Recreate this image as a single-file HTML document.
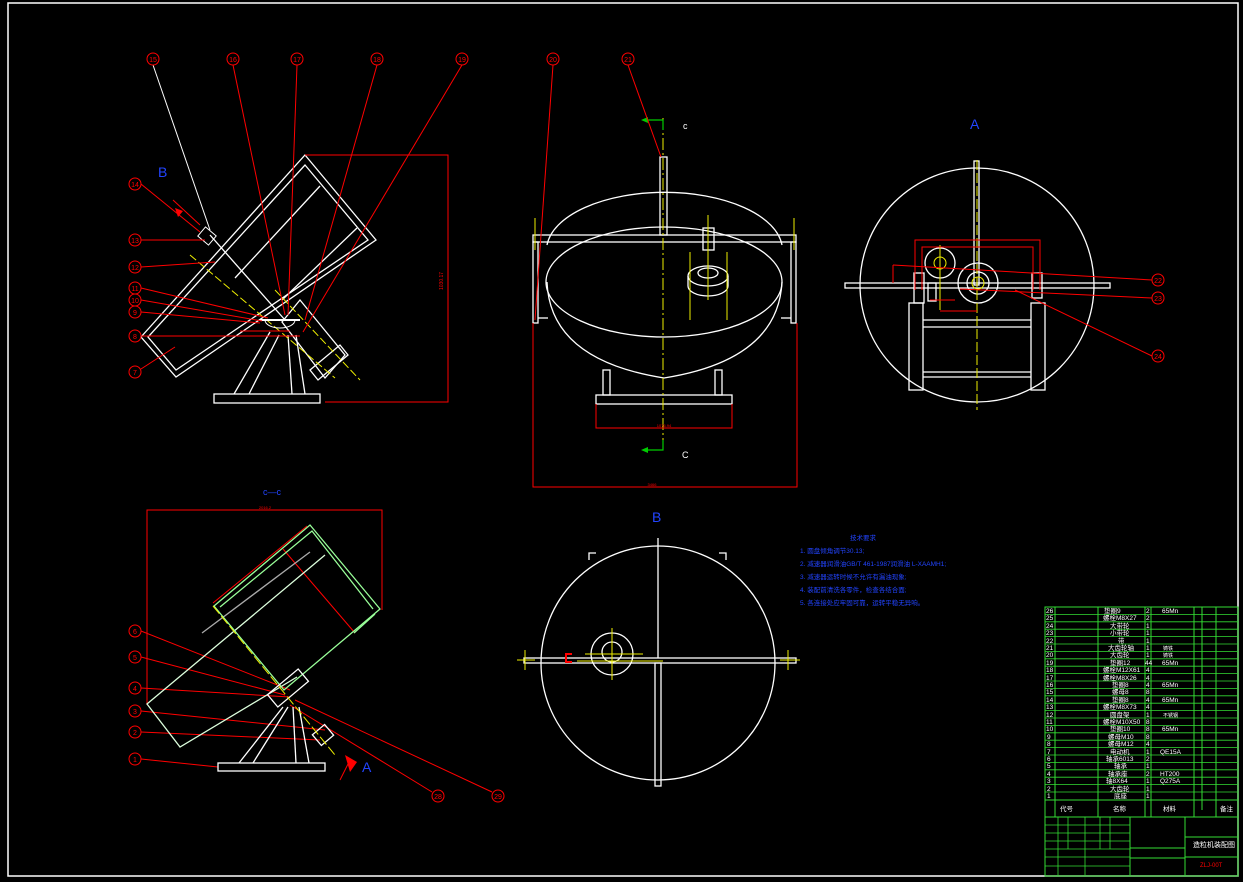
<!DOCTYPE html>
<html><head><meta charset="utf-8"><style>
html,body{margin:0;padding:0;background:#000;}
svg{display:block;font-family:"Liberation Sans","Noto Sans CJK SC",sans-serif;}
</style></head><body>
<svg width="1243" height="882" viewBox="0 0 1243 882" xmlns="http://www.w3.org/2000/svg">
<rect width="1243" height="882" fill="#000"/>
<rect x="8" y="3" width="1230" height="873" fill="none" stroke="#fff" stroke-width="1.5"/>

<!-- ============ TOP-LEFT VIEW ============ -->
<g fill="none" stroke="#fff" stroke-width="1.3">
<polygon points="305,155 376,240 176,377 141,337"/>
<polygon points="305,165 368,240 176,370 148,337"/>
<line x1="320" y1="186" x2="235" y2="278"/>
<line x1="357" y1="228" x2="282" y2="300"/>
<line x1="210" y1="235" x2="285" y2="320"/>
<polygon points="300,300 345,355 325,378 282,322"/>
<rect x="214" y="394" width="106" height="9"/>
<line x1="234" y1="394" x2="270" y2="332"/><line x1="249" y1="394" x2="279" y2="335"/>
<line x1="292" y1="394" x2="288" y2="335"/><line x1="305" y1="394" x2="296" y2="335"/>
<polygon points="310,370 340,345 348,355 318,380"/>
</g>
<g stroke="#ee0" stroke-width="1" fill="none" stroke-dasharray="8,3">
<line x1="190" y1="255" x2="335" y2="378"/><line x1="275" y1="290" x2="360" y2="380"/>
</g>
<path d="M265 320 a15 8 0 0 0 30 0" fill="none" stroke="#fff"/>
<line x1="260" y1="320" x2="300" y2="320" stroke="#fff" stroke-width="2"/>
<rect x="200" y="230" width="14" height="12" fill="none" stroke="#fff" transform="rotate(40 207 236)"/>
<g fill="none" stroke="#f00" stroke-width="1">
<polyline points="305,155 448,155 448,402 325,402"/>
<line x1="173" y1="200" x2="200" y2="225"/>
<line x1="153" y1="65" x2="210" y2="230" stroke="#fff"/>
<line x1="233" y1="65" x2="285" y2="315"/>
<line x1="297" y1="65" x2="288" y2="315"/>
<line x1="377" y1="65" x2="305" y2="320"/>
<line x1="462" y1="65" x2="303" y2="332"/>
<line x1="141" y1="184" x2="200" y2="232"/>
<line x1="141" y1="240" x2="205" y2="240"/>
<line x1="141" y1="267" x2="215" y2="262"/>
<line x1="141" y1="288" x2="268" y2="318"/>
<line x1="141" y1="300" x2="262" y2="321"/>
<line x1="141" y1="312" x2="260" y2="323"/>
<line x1="141" y1="336" x2="300" y2="336"/>
<line x1="141" y1="369" x2="175" y2="347"/>
<line x1="240" y1="331" x2="290" y2="331"/>
</g>
<polygon points="175,208 183,211 178,217" fill="#f00"/>
<text x="158" y="177" fill="#24f" font-size="14">B</text>
<text x="443" y="290" fill="#f00" font-size="5" transform="rotate(-90 443 290)">1030.17</text>

<!-- balloons -->
<g fill="none" stroke="#f00" stroke-width="1">
<circle cx="153" cy="59" r="6"/><circle cx="233" cy="59" r="6"/><circle cx="297" cy="59" r="6"/><circle cx="377" cy="59" r="6"/><circle cx="462" cy="59" r="6"/>
<circle cx="135" cy="184" r="6"/><circle cx="135" cy="240" r="6"/><circle cx="135" cy="267" r="6"/><circle cx="135" cy="288" r="6"/><circle cx="135" cy="300" r="6"/><circle cx="135" cy="312" r="6"/><circle cx="135" cy="336" r="6"/><circle cx="135" cy="372" r="6"/>
<circle cx="553" cy="59" r="6"/><circle cx="628" cy="59" r="6"/>
<circle cx="1158" cy="280" r="6"/><circle cx="1158" cy="298" r="6"/><circle cx="1158" cy="356" r="6"/>
<circle cx="135" cy="631" r="6"/><circle cx="135" cy="657" r="6"/><circle cx="135" cy="688" r="6"/><circle cx="135" cy="711" r="6"/><circle cx="135" cy="732" r="6"/><circle cx="135" cy="759" r="6"/>
<circle cx="438" cy="796" r="6"/><circle cx="498" cy="796" r="6"/>
</g>
<g fill="#f00" font-size="7" text-anchor="middle">
<text x="153" y="62">15</text><text x="233" y="62">16</text><text x="297" y="62">17</text><text x="377" y="62">18</text><text x="462" y="62">19</text>
<text x="135" y="187">14</text><text x="135" y="243">13</text><text x="135" y="270">12</text><text x="135" y="291">11</text><text x="135" y="303">10</text><text x="135" y="315">9</text><text x="135" y="339">8</text><text x="135" y="375">7</text>
<text x="553" y="62">20</text><text x="628" y="62">21</text>
<text x="1158" y="283">22</text><text x="1158" y="301">23</text><text x="1158" y="359">24</text>
<text x="135" y="634">6</text><text x="135" y="660">5</text><text x="135" y="691">4</text><text x="135" y="714">3</text><text x="135" y="735">2</text><text x="135" y="762">1</text>
<text x="438" y="799">28</text><text x="498" y="799">29</text>
</g>

<!-- ============ TOP-MIDDLE VIEW ============ -->
<g fill="none" stroke="#fff" stroke-width="1.3">
<path d="M547 245 A118 58 0 0 1 782 245"/>
<ellipse cx="664" cy="282" rx="118" ry="55"/>
<path d="M547 282 Q550 360 664 378 Q778 360 782 282"/>
<rect x="533" y="235" width="263" height="7"/>
<rect x="533" y="242" width="5" height="81"/><rect x="791" y="242" width="5" height="81"/>
<line x1="538" y1="318" x2="548" y2="318"/><line x1="781" y1="318" x2="791" y2="318"/>
<rect x="660" y="157" width="7" height="78"/>
<rect x="603" y="370" width="7" height="25"/><rect x="715" y="370" width="7" height="25"/>
<rect x="596" y="395" width="136" height="9"/>
<ellipse cx="708" cy="276" rx="20" ry="10"/>
<path d="M688 276 v10 a20 10 0 0 0 40 0 v-10"/>
<ellipse cx="708" cy="273" rx="10" ry="5"/>
<rect x="703" y="228" width="11" height="22"/>
</g>
<g stroke="#ee0" stroke-width="1" fill="none">
<line x1="663" y1="118" x2="663" y2="450" stroke-dasharray="12,3,2,3"/>
<line x1="535" y1="218" x2="535" y2="250"/><line x1="794" y1="218" x2="794" y2="250"/>
<line x1="690" y1="252" x2="690" y2="320"/><line x1="727" y1="252" x2="727" y2="320"/>
<line x1="708" y1="215" x2="708" y2="300"/>
</g>
<g stroke="#0c0" stroke-width="1.2" fill="none"><polyline points="645,120 663,120 663,130"/><polyline points="645,450 663,450 663,440"/></g>
<polygon points="641,120 648,117 648,123" fill="#0c0"/><polygon points="641,450 648,447 648,453" fill="#0c0"/>
<text x="683" y="129" fill="#fff" font-size="9">c</text><text x="682" y="458" fill="#fff" font-size="9">C</text>
<g stroke="#f00" fill="none" stroke-width="1">
<line x1="553" y1="65" x2="535" y2="320"/><line x1="628" y1="65" x2="661" y2="157"/>
<polyline points="596,404 596,428 732,428 732,404"/>
<polyline points="533,323 533,487 797,487 797,323"/>
</g>
<text x="664" y="427" fill="#f00" font-size="4" text-anchor="middle">1076.94</text>
<text x="652" y="486" fill="#f00" font-size="4" text-anchor="middle">3466</text>

<!-- ============ TOP-RIGHT VIEW A ============ -->
<text x="970" y="129" fill="#24f" font-size="14">A</text>
<g fill="none" stroke="#fff" stroke-width="1.3">
<circle cx="977" cy="285" r="117"/>
<rect x="974" y="161" width="5" height="124"/>
<rect x="845" y="283" width="265" height="5"/>
<rect x="909" y="303" width="14" height="87"/><rect x="1031" y="303" width="14" height="87"/>
<line x1="923" y1="320" x2="1031" y2="320"/><line x1="923" y1="327" x2="1031" y2="327"/>
<line x1="923" y1="372" x2="1031" y2="372"/><line x1="923" y1="377" x2="1031" y2="377"/>
<circle cx="940" cy="263" r="15"/><circle cx="978" cy="283" r="20"/><circle cx="978" cy="283" r="11"/>
<rect x="914" y="273" width="10" height="30"/><rect x="1032" y="273" width="10" height="25"/>
<rect x="928" y="283" width="8" height="18"/>
</g>
<circle cx="940" cy="263" r="6" fill="none" stroke="#ee0"/><circle cx="978" cy="283" r="6" fill="none" stroke="#ee0"/>
<line x1="977" y1="160" x2="977" y2="410" stroke="#ee0" stroke-dasharray="10,3"/>
<line x1="940" y1="245" x2="940" y2="310" stroke="#ee0"/>
<g stroke="#f00" fill="none" stroke-width="1">
<polyline points="915,290 915,240 1040,240 1040,290"/>
<polyline points="922,290 922,247 1033,247 1033,290"/>
<polyline points="893,265 893,283"/><line x1="893" y1="265" x2="1152" y2="280"/>
<line x1="960" y1="289" x2="1152" y2="298"/><line x1="1015" y1="290" x2="1152" y2="356"/>
<line x1="940" y1="311" x2="977" y2="311"/><line x1="930" y1="300" x2="955" y2="300"/>
</g>

<!-- ============ BOTTOM-LEFT VIEW c-c ============ -->
<text x="263" y="495" fill="#24f" font-size="9">c—c</text>
<g stroke="#f00" fill="none" stroke-width="1">
<polyline points="147,705 147,510 382,510 382,610"/>
<line x1="213" y1="603" x2="307" y2="526"/><line x1="283" y1="549" x2="355" y2="633"/>
<line x1="141" y1="631" x2="290" y2="690"/><line x1="141" y1="657" x2="285" y2="695"/>
<line x1="141" y1="688" x2="290" y2="697"/><line x1="141" y1="711" x2="325" y2="730"/>
<line x1="141" y1="732" x2="320" y2="740"/><line x1="141" y1="759" x2="218" y2="767"/>
<line x1="432" y1="792" x2="290" y2="705"/><line x1="492" y1="792" x2="295" y2="700"/>
<line x1="340" y1="780" x2="350" y2="760" />
</g>
<text x="265" y="509" fill="#f00" font-size="4" text-anchor="middle">2016.2</text>
<g fill="none" stroke="#dfd" stroke-width="1.3">
<polyline points="325,555 147,704 180,747 297,677"/>
<line x1="310" y1="552" x2="202" y2="633" stroke="#aaa"/>
</g>
<g fill="none" stroke="#9f9" stroke-width="1.3">
<polygon points="214,606 310,525 380,609 284,690"/>
<polyline points="220,607 312,531 373,609"/>
<line x1="354" y1="633" x2="375" y2="614"/>
</g>
<g fill="none" stroke="#fff" stroke-width="1.3">
<rect x="218" y="763" width="107" height="8"/>
<line x1="239" y1="763" x2="283" y2="707"/><line x1="253" y1="763" x2="288" y2="707"/>
<line x1="296" y1="763" x2="293" y2="707"/><line x1="309" y1="763" x2="299" y2="707"/>
<rect x="268" y="680" width="40" height="16" transform="rotate(-40 288 688)"/>
<rect x="315" y="728" width="16" height="14" transform="rotate(-40 323 735)"/>
</g>
<line x1="213" y1="606" x2="335" y2="755" stroke="#ee0" stroke-dasharray="10,3"/>
<polygon points="345,755 357,762 350,772" fill="#f00"/>
<text x="362" y="772" fill="#24f" font-size="14">A</text>

<!-- ============ BOTTOM-MIDDLE VIEW B ============ -->
<text x="652" y="522" fill="#24f" font-size="14">B</text>
<g fill="none" stroke="#fff" stroke-width="1.3">
<circle cx="658" cy="663" r="117"/>
<line x1="658" y1="538" x2="658" y2="658"/>
<rect x="655" y="663" width="6" height="123"/>
<rect x="524" y="658" width="272" height="5"/>
<path d="M589 560 v-7 h7"/><path d="M726 560 v-7 h-7"/>
<circle cx="612" cy="654" r="21"/><circle cx="612" cy="652" r="10"/>
</g>
<g stroke="#ee0" fill="none" stroke-width="1">
<line x1="517" y1="660" x2="535" y2="660"/><line x1="525" y1="650" x2="525" y2="670"/>
<line x1="780" y1="660" x2="800" y2="660"/><line x1="788" y1="650" x2="788" y2="670"/>
<line x1="612" y1="628" x2="612" y2="680"/><line x1="585" y1="654" x2="643" y2="654"/>
<line x1="577" y1="661" x2="663" y2="661"/>
</g>
<path d="M572 654 h-6 v8 h6" fill="none" stroke="#f00" stroke-width="2"/>

<!-- notes -->
<g fill="#24f" font-size="6.5">
<text x="850" y="540">技术要求</text>
<text x="800" y="553">1. 圆盘倾角调节30.13;</text>
<text x="800" y="566">2. 减速器润滑油GB/T 461-1987润滑油 L-XAAMH1;</text>
<text x="800" y="579">3. 减速器运转时候不允许有漏油现象;</text>
<text x="800" y="592">4. 装配前清洗各零件，检查各结合面;</text>
<text x="800" y="605">5. 各连接处应牢固可靠，运转平稳无异响。</text>
</g>

<!-- ============ TITLE BLOCK ============ -->
<g stroke="#3d3" stroke-width="1" fill="none">
<rect x="1045" y="607" width="193" height="269"/>
<line x1="1055" y1="607" x2="1055" y2="817"/>
<line x1="1098" y1="607" x2="1098" y2="817"/>
<line x1="1145" y1="607" x2="1145" y2="817"/>
<line x1="1151" y1="607" x2="1151" y2="817"/>
<line x1="1194" y1="607" x2="1194" y2="817"/>
<line x1="1202" y1="607" x2="1202" y2="810"/>
<line x1="1216" y1="607" x2="1216" y2="817"/>
<line x1="1045" y1="800" x2="1238" y2="800"/>
<line x1="1045" y1="817" x2="1238" y2="817"/>
<line x1="1130" y1="817" x2="1130" y2="876"/>
<line x1="1185" y1="817" x2="1185" y2="876"/>
<line x1="1185" y1="837" x2="1238" y2="837"/>
<line x1="1185" y1="857" x2="1238" y2="857"/>
<line x1="1130" y1="848" x2="1185" y2="848"/>
<line x1="1130" y1="858" x2="1185" y2="858"/>
</g>
<g stroke="#3d3" stroke-width="0.8">
<line x1="1045" y1="614.4" x2="1238" y2="614.4"/><line x1="1045" y1="621.8" x2="1238" y2="621.8"/><line x1="1045" y1="629.2" x2="1238" y2="629.2"/><line x1="1045" y1="636.6" x2="1238" y2="636.6"/><line x1="1045" y1="644" x2="1238" y2="644"/><line x1="1045" y1="651.4" x2="1238" y2="651.4"/><line x1="1045" y1="658.8" x2="1238" y2="658.8"/><line x1="1045" y1="666.2" x2="1238" y2="666.2"/><line x1="1045" y1="673.6" x2="1238" y2="673.6"/><line x1="1045" y1="681" x2="1238" y2="681"/><line x1="1045" y1="688.4" x2="1238" y2="688.4"/><line x1="1045" y1="695.8" x2="1238" y2="695.8"/><line x1="1045" y1="703.2" x2="1238" y2="703.2"/><line x1="1045" y1="710.6" x2="1238" y2="710.6"/><line x1="1045" y1="718" x2="1238" y2="718"/><line x1="1045" y1="725.4" x2="1238" y2="725.4"/><line x1="1045" y1="732.8" x2="1238" y2="732.8"/><line x1="1045" y1="740.2" x2="1238" y2="740.2"/><line x1="1045" y1="747.6" x2="1238" y2="747.6"/><line x1="1045" y1="755" x2="1238" y2="755"/><line x1="1045" y1="762.4" x2="1238" y2="762.4"/><line x1="1045" y1="769.8" x2="1238" y2="769.8"/><line x1="1045" y1="777.2" x2="1238" y2="777.2"/><line x1="1045" y1="784.6" x2="1238" y2="784.6"/><line x1="1045" y1="792" x2="1238" y2="792"/>
<line x1="1045" y1="825" x2="1130" y2="825"/><line x1="1045" y1="833" x2="1130" y2="833"/><line x1="1045" y1="841" x2="1130" y2="841"/><line x1="1045" y1="849" x2="1130" y2="849"/><line x1="1045" y1="857" x2="1130" y2="857"/><line x1="1045" y1="866" x2="1130" y2="866"/>
<line x1="1058" y1="817" x2="1058" y2="876"/><line x1="1068" y1="817" x2="1068" y2="849"/><line x1="1085" y1="817" x2="1085" y2="876"/><line x1="1100" y1="817" x2="1100" y2="849"/><line x1="1110" y1="817" x2="1110" y2="849"/>
</g>
<g fill="#fff" font-size="6.5">
<text x="1046" y="613">26</text><text x="1046" y="620">25</text><text x="1046" y="628">24</text><text x="1046" y="635">23</text><text x="1046" y="643">22</text><text x="1046" y="650">21</text><text x="1046" y="657">20</text><text x="1046" y="665">19</text><text x="1046" y="672">18</text><text x="1046" y="680">17</text><text x="1046" y="687">16</text><text x="1046" y="694">15</text><text x="1046" y="702">14</text><text x="1046" y="709">13</text><text x="1046" y="717">12</text><text x="1046" y="724">11</text><text x="1046" y="731">10</text><text x="1047" y="739">9</text><text x="1047" y="746">8</text><text x="1047" y="754">7</text><text x="1047" y="761">6</text><text x="1047" y="768">5</text><text x="1047" y="776">4</text><text x="1047" y="783">3</text><text x="1047" y="791">2</text><text x="1047" y="798">1</text>
<text x="1104" y="613">垫圈9</text><text x="1103" y="620">螺栓M8X27</text><text x="1110" y="628">大带轮</text><text x="1110" y="635">小带轮</text><text x="1118" y="643">带</text><text x="1108" y="650">大齿轮轴</text><text x="1110" y="657">大齿轮</text><text x="1110" y="665">垫圈12</text><text x="1103" y="672">螺栓M12X61</text><text x="1103" y="680">螺栓M8X26</text><text x="1112" y="687">垫圈8</text><text x="1112" y="694">螺母8</text><text x="1112" y="702">垫圈8</text><text x="1103" y="709">螺栓M8X73</text><text x="1110" y="717">圆盘架</text><text x="1103" y="724">螺栓M10X50</text><text x="1110" y="731">垫圈10</text><text x="1108" y="739">螺母M10</text><text x="1108" y="746">螺母M12</text><text x="1110" y="754">电动机</text><text x="1106" y="761">轴承6013</text><text x="1114" y="768">轴承</text><text x="1108" y="776">轴承座</text><text x="1106" y="783">轴8X64</text><text x="1110" y="791">大齿轮</text><text x="1114" y="798">底座</text>
<text x="1146" y="613">2</text><text x="1146" y="620">2</text><text x="1146" y="628">1</text><text x="1146" y="635">1</text><text x="1146" y="643">1</text><text x="1146" y="650">1</text><text x="1146" y="657">1</text><text x="1145" y="665">44</text><text x="1146" y="672">4</text><text x="1146" y="680">4</text><text x="1146" y="687">4</text><text x="1146" y="694">8</text><text x="1146" y="702">4</text><text x="1146" y="709">4</text><text x="1146" y="717">1</text><text x="1146" y="724">8</text><text x="1146" y="731">8</text><text x="1146" y="739">8</text><text x="1146" y="746">4</text><text x="1146" y="754">1</text><text x="1146" y="761">2</text><text x="1146" y="768">1</text><text x="1146" y="776">2</text><text x="1146" y="783">1</text><text x="1146" y="791">1</text><text x="1146" y="798">1</text>
<text x="1162" y="613">65Mn</text><text x="1162" y="665">65Mn</text><text x="1162" y="687">65Mn</text><text x="1162" y="702">65Mn</text><text x="1162" y="731">65Mn</text><text x="1160" y="754">QE15A</text><text x="1160" y="776">HT200</text><text x="1160" y="783">Q275A</text>
<text x="1163" y="650" font-size="5">铸铁</text><text x="1163" y="657" font-size="5">铸铁</text><text x="1163" y="717" font-size="5">不锈钢</text>
<text x="1060" y="811">代号</text><text x="1113" y="811">名称</text><text x="1163" y="811">材料</text><text x="1220" y="811">备注</text>
<text x="1193" y="847" font-size="7">造粒机装配图</text>
</g>
<text x="1200" y="867" fill="#f00" font-size="6">ZLJ-00T</text>
</svg>
</body></html>
